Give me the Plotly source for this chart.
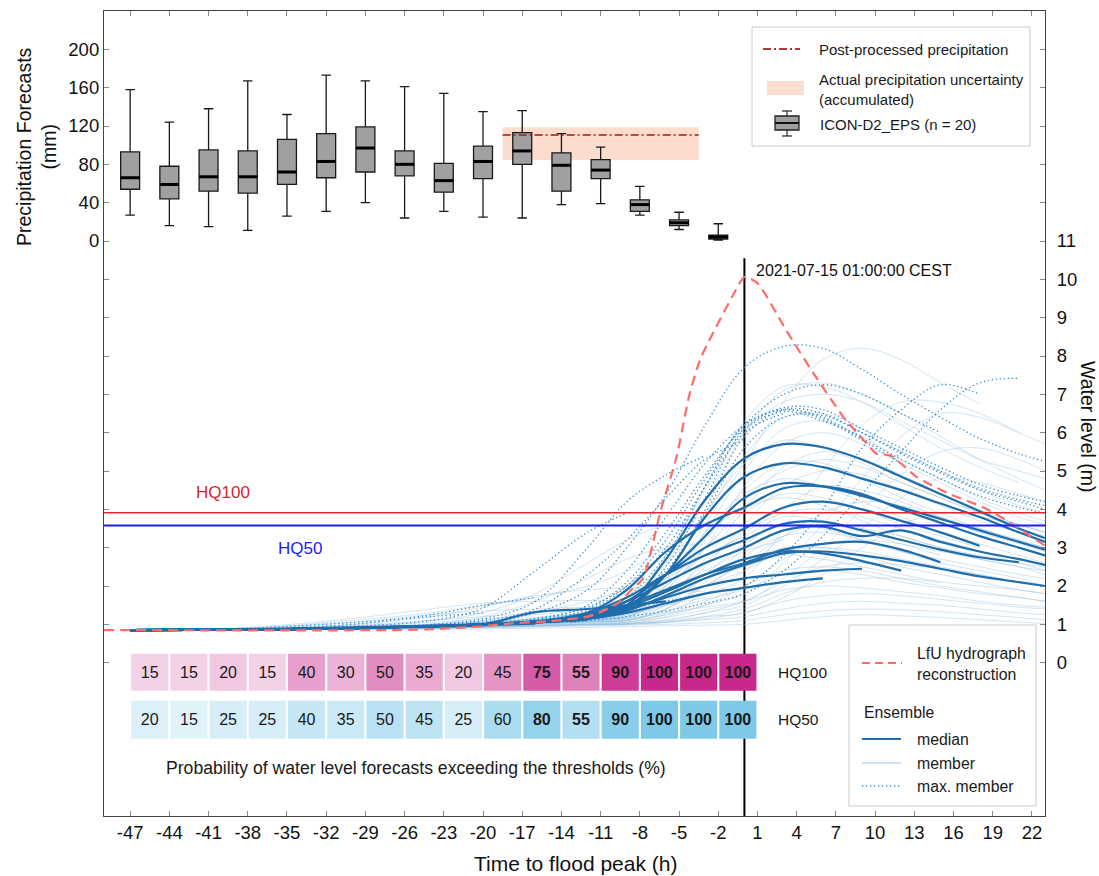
import plotly.graph_objects as go

# ---------------- data ----------------
issue_times = [-47, -44, -41, -38, -35, -32, -29, -26, -23, -20, -17, -14, -11, -8, -5, -2]
precip_upper = [158, 124, 138, 167, 132, 173, 167, 161, 154, 135, 136, 112, 98, 57, 30, 18]
precip_q3 = [93, 78, 95, 94, 106, 112, 119, 94, 81, 99, 113, 92, 85, 43, 22, 6]
precip_median = [66, 59, 67, 67, 72, 83, 97, 80, 63, 83, 94, 79, 74, 38, 19, 4]
precip_q1 = [54, 44, 52, 50, 59, 66, 72, 68, 51, 65, 80, 52, 65, 31, 16, 2]
precip_lower = [27, 16, 15, 11, 26, 31, 40, 24, 31, 25, 24, 38, 39, 27, 12, 1]

band_start, band_end = -18.5, -3.5
band_low, band_high = 84.5, 118.6
postprocessed_precip = 110.6

prob_hq100 = [15, 15, 20, 15, 40, 30, 50, 35, 20, 45, 75, 55, 90, 100, 100, 100]
prob_hq50 = [20, 15, 25, 25, 40, 35, 50, 45, 25, 60, 80, 55, 90, 100, 100, 100]
bold_from = -17

hq100_level = 3.91
hq50_level = 3.58
peak_time = 0
peak_label = "2021-07-15 01:00:00 CEST"

x_ticks = list(range(-47, 23, 3))
precip_ticks = [0, 40, 80, 120, 160, 200]
level_ticks = list(range(0, 12))

lfu_time = [-49, -25, -20, -18, -15, -12, -10.5, -9.5, -8.5, -7.75, -6.4, -5.2, -4.2, -3.4, -2.4,
            -0.8, 0, 1, 3.2, 5.3, 7.6, 9.4, 10.1, 11.2, 13.2, 15.7, 18.3, 20.1, 21.9, 23]
lfu_level = [0.85, 0.86, 0.95, 1.02, 1.08, 1.2, 1.4, 1.6, 1.95, 2.2, 3.97, 5.36, 7.0, 7.9, 8.6,
             9.63, 10.06, 9.9, 8.67, 7.54, 6.4, 5.7, 5.45, 5.4, 4.84, 4.4, 4.05, 3.7, 3.3, 3.05]

# forecast hours at which the ensemble levels are read
knots = [-47, -38, -30, -24, -20, -16, -12, -9, -6, -3, 0, 3, 6, 9, 12, 15, 18, 21, 23]

median_levels = [
    [0.85, 0.86, 0.9, 0.93, 0.97],
    [0.85, 0.86, 0.9, 0.95, 0.98, 1.02],
    [0.85, 0.86, 0.9, 0.96, 1.0, 1.05, 1.12],
    [0.85, 0.87, 0.92, 0.96, 1.0, 1.32, 1.4, 1.5, 1.6],
    [0.85, 0.86, 0.9, 0.95, 1.0, 1.05, 1.15, 1.3, 1.55, 1.8, 1.95, 2.1, 2.2],
    [0.85, 0.86, 0.9, 0.95, 1.0, 1.05, 1.18, 1.4, 1.7, 2.0, 2.2, 2.3, 2.4, 2.45],
    [0.85, 0.86, 0.9, 0.95, 1.0, 1.05, 1.2, 1.45, 1.85, 2.3, 2.7, 2.9, 2.85, 2.65, 2.4],
    [0.85, 0.86, 0.9, 0.95, 1.0, 1.05, 1.15, 1.35, 1.75, 2.2, 2.55, 2.85, 2.9, 2.8, 2.65, 2.45, 2.25, 2.1, 2.0],
    [0.85, 0.86, 0.9, 0.95, 1.0, 1.06, 1.2, 1.5, 1.9, 2.3, 2.6, 2.95, 3.1, 3.15, 2.95, 2.62],
    [0.85, 0.86, 0.9, 0.95, 1.0, 1.07, 1.25, 1.6, 2.1, 2.6, 3.0, 3.45, 3.55, 3.3, 3.45, 3.15, 2.9, 2.7, 2.55],
    [0.85, 0.86, 0.9, 0.95, 1.0, 1.07, 1.3, 1.7, 2.3, 2.8, 3.2, 3.62, 3.68, 3.45, 3.2, 2.95, 2.75, 2.62],
    [0.85, 0.86, 0.9, 0.95, 1.0, 1.07, 1.2, 1.6, 2.3, 3.0, 3.5, 4.05, 4.2, 4.0, 3.7, 3.4, 3.05],
    [0.85, 0.86, 0.9, 0.95, 1.0, 1.07, 1.3, 1.9, 2.9, 3.6, 4.05, 4.55, 4.6, 4.4, 4.0, 3.65, 3.3, 3.0, 2.8],
    [0.85, 0.86, 0.9, 0.95, 1.0, 1.07, 1.15, 1.45, 2.3, 3.3, 4.3, 4.68, 4.6, 4.35, 4.05, 3.75, 3.45, 3.15, 2.95],
    [0.85, 0.86, 0.9, 0.95, 1.0, 1.07, 1.15, 1.4, 2.3, 3.8, 4.85, 5.2, 5.1, 4.8, 4.5, 4.15, 3.8, 3.4, 3.15],
    [0.85, 0.86, 0.9, 0.95, 1.0, 1.07, 1.15, 1.5, 2.7, 4.25, 5.33, 5.7, 5.62, 5.3, 4.85, 4.4, 3.95, 3.5, 3.25],
]

max_member_levels = [
    [0.85, 0.9, 1.05, 1.2, 1.3],
    [0.85, 0.88, 1.0, 1.25, 1.5, 1.7],
    [0.85, 0.87, 0.95, 1.1, 1.43, 2.4, 3.4, 3.9],
    [0.85, 0.87, 0.93, 1.0, 1.15, 1.6, 3.0, 4.2, 4.9, 5.4],
    [0.85, 0.86, 0.9, 0.98, 1.1, 1.4, 2.3, 3.2, 4.3, 5.3, 5.8],
    [0.85, 0.86, 0.9, 0.96, 1.03, 1.15, 1.45, 2.0, 3.0, 4.6, 6.0, 6.5],
    [0.85, 0.86, 0.9, 0.95, 1.0, 1.1, 1.4, 2.1, 3.4, 4.9, 6.1, 6.55, 6.3, 5.9],
    [0.85, 0.86, 0.9, 0.95, 1.0, 1.12, 1.5, 2.4, 3.8, 5.2, 6.2, 6.6, 6.35, 5.8, 5.2],
    [0.85, 0.86, 0.9, 0.95, 1.0, 1.1, 1.35, 2.0, 3.2, 4.8, 6.2, 7.0, 7.25, 7.0, 6.5, 6.0],
    [0.85, 0.87, 0.92, 0.98, 1.05, 1.3, 1.9, 3.0, 4.4, 6.2, 7.7, 8.25, 8.2, 7.65, 7.0, 6.4, 5.85, 5.45, 5.25],
    [0.85, 0.86, 0.9, 0.95, 1.0, 1.05, 1.2, 1.4, 1.6, 1.8, 2.0, 2.8, 4.0, 5.6, 6.6, 7.25, 7.0],
    [0.85, 0.86, 0.9, 0.94, 0.98, 1.03, 1.1, 1.2, 1.35, 1.55, 1.8, 2.4, 3.3, 4.4, 5.5, 6.6, 7.3, 7.42],
    [0.85, 0.86, 0.9, 0.95, 1.0, 1.07, 1.2, 1.6, 2.4, 3.9, 5.6, 6.4, 6.45, 6.0, 5.45, 4.95, 4.5, 4.2, 4.0],
    [0.85, 0.86, 0.9, 0.95, 1.0, 1.07, 1.15, 1.5, 2.3, 4.0, 5.9, 6.6, 6.5, 6.0, 5.5, 5.0, 4.55, 4.25, 4.1],
    [0.85, 0.86, 0.9, 0.95, 1.0, 1.06, 1.1, 1.45, 2.5, 4.3, 6.1, 6.65, 6.6, 6.1, 5.6, 5.1, 4.65, 4.35, 4.2],
    [0.85, 0.86, 0.9, 0.95, 1.0, 1.08, 1.2, 1.7, 2.8, 4.6, 6.2, 6.6, 6.4, 5.85, 5.3, 4.8, 4.35, 4.05, 3.9],
]

member_levels = [
    [0.85, 0.9, 1.05, 1.25, 1.35, 1.4, 1.45],
    [0.85, 0.88, 0.98, 1.1, 1.2, 1.3, 1.4, 1.5],
    [0.85, 0.92, 1.15, 1.4, 1.55, 1.6, 1.62, 1.6],
    [0.85, 0.87, 0.93, 1.0, 1.1, 1.3, 1.6, 1.9, 2.1],
    [0.85, 0.86, 0.9, 0.95, 1.0, 1.05, 1.15, 1.3, 1.5, 1.7],
    [0.85, 0.9, 1.0, 1.2, 1.45, 1.75, 1.9, 1.95, 1.9, 1.85],
    [0.85, 0.88, 0.95, 1.05, 1.15, 1.25, 1.4, 1.7, 2.2, 2.8, 3.3],
    [0.85, 0.86, 0.9, 0.97, 1.05, 1.15, 1.3, 1.5, 1.9, 2.4, 2.9, 3.2],
    [0.85, 0.9, 1.1, 1.3, 1.5, 1.7, 2.0, 2.4, 3.0, 3.6, 4.0],
    [0.85, 0.87, 0.95, 1.1, 1.3, 1.8, 2.6, 3.2, 3.6, 3.8],
    [0.85, 0.86, 0.92, 1.0, 1.2, 1.6, 2.2, 2.7, 3.0, 3.1],
    [0.85, 0.86, 0.9, 0.95, 1.0, 1.05, 1.15, 1.4, 2.2, 3.6, 5.2, 6.8, 7.9, 8.2, 7.9, 7.3, 6.75],
    [0.85, 0.86, 0.9, 0.96, 1.02, 1.1, 1.2, 1.5, 2.6, 4.2, 6.0, 7.1, 7.3, 7.0, 6.5, 5.9, 5.3, 4.8, 4.5],
    [0.85, 0.86, 0.9, 0.94, 0.98, 1.03, 1.1, 1.25, 1.5, 1.8, 2.2, 3.5, 5.0, 6.2, 6.8, 6.8, 6.5, 6.0],
    [0.85, 0.86, 0.9, 0.95, 1.0, 1.05, 1.15, 1.3, 2.0, 3.4, 5.0, 6.1, 6.3, 5.9, 5.3, 4.8, 4.3, 3.9, 3.7],
    [0.85, 0.86, 0.9, 0.95, 1.0, 1.04, 1.12, 1.2, 1.8, 3.0, 4.6, 5.7, 6.0, 5.7, 5.2, 4.7, 4.2, 3.8, 3.6],
    [0.85, 0.87, 0.92, 0.98, 1.05, 1.15, 1.3, 1.5, 2.5, 3.9, 5.2, 5.8, 5.6, 5.2, 4.7, 4.3, 3.9, 3.5, 3.3],
    [0.85, 0.86, 0.9, 0.94, 0.99, 1.04, 1.1, 1.2, 1.7, 2.7, 4.0, 5.1, 5.5, 5.3, 4.9, 4.4, 4.0, 3.6, 3.4],
    [0.85, 0.86, 0.91, 0.96, 1.02, 1.08, 1.18, 1.3, 2.1, 3.3, 4.5, 5.2, 5.2, 4.8, 4.3, 3.9, 3.5, 3.2, 3.0],
    [0.85, 0.86, 0.9, 0.95, 1.0, 1.04, 1.1, 1.15, 1.6, 2.5, 3.6, 4.6, 5.0, 4.9, 4.5, 4.1, 3.7, 3.4, 3.2],
    [0.85, 0.87, 0.93, 1.0, 1.08, 1.18, 1.3, 1.4, 2.2, 3.4, 4.4, 4.8, 4.6, 4.2, 3.8, 3.4, 3.1, 2.8, 2.6],
    [0.85, 0.86, 0.9, 0.94, 0.98, 1.02, 1.07, 1.1, 1.4, 2.1, 3.0, 4.0, 4.6, 4.5, 4.2, 3.8, 3.4, 3.1, 2.9],
    [0.85, 0.86, 0.9, 0.96, 1.02, 1.1, 1.2, 1.2, 1.9, 3.0, 3.9, 4.4, 4.3, 4.0, 3.6, 3.3, 3.0],
    [0.85, 0.86, 0.89, 0.93, 0.97, 1.0, 1.03, 1.05, 1.3, 1.8, 2.4, 3.3, 3.9, 4.2, 4.1, 3.8, 3.5, 3.2, 3.0],
    [0.85, 0.86, 0.9, 0.95, 1.0, 1.06, 1.15, 1.2, 1.7, 2.6, 3.4, 3.9, 4.0, 3.8, 3.5, 3.2, 2.9, 2.6, 2.5],
    [0.85, 0.87, 0.92, 0.98, 1.05, 1.12, 1.22, 1.3, 2.0, 2.8, 3.3, 3.8, 3.7, 3.4, 3.1, 2.8],
    [0.85, 0.86, 0.9, 0.94, 0.98, 1.02, 1.07, 1.1, 1.4, 2.0, 2.6, 3.3, 3.6, 3.5, 3.3, 3.0, 2.8, 2.6, 2.4],
    [0.85, 0.86, 0.9, 0.95, 1.0, 1.06, 1.14, 1.2, 1.6, 2.2, 2.8, 3.3, 3.4, 3.2, 2.9, 2.7, 2.5, 2.3, 2.2],
    [0.85, 0.86, 0.88, 0.91, 0.94, 0.97, 1.0, 1.0, 1.2, 1.5, 2.0, 2.7, 3.1, 3.2, 3.1, 2.9, 2.7, 2.5, 2.4],
    [0.85, 0.86, 0.9, 0.94, 0.98, 1.03, 1.1, 1.15, 1.5, 2.0, 2.4, 2.9, 3.0, 2.9, 2.7, 2.5, 2.3, 2.1, 2.0],
    [0.85, 0.87, 0.92, 0.98, 1.05, 1.12, 1.2, 1.3, 1.7, 2.2, 2.5, 2.8, 2.7, 2.5, 2.3, 2.1],
    [0.85, 0.86, 0.88, 0.91, 0.94, 0.97, 1.0, 1.02, 1.1, 1.3, 1.6, 2.1, 2.5, 2.6, 2.55, 2.45, 2.3, 2.1, 2.0],
    [0.85, 0.86, 0.9, 0.94, 0.98, 1.02, 1.08, 1.12, 1.35, 1.65, 1.9, 2.3, 2.4, 2.3, 2.1, 1.95, 1.8, 1.7, 1.6],
    [0.85, 0.86, 0.88, 0.9, 0.93, 0.96, 0.99, 1.0, 1.05, 1.2, 1.4, 1.8, 2.1, 2.2, 2.2, 2.1, 2.0, 1.9, 1.8],
    [0.85, 0.86, 0.9, 0.95, 1.0, 1.05, 1.1, 1.15, 1.3, 1.45, 1.6, 1.9, 2.0, 1.95, 1.85, 1.75, 1.6, 1.5, 1.45],
    [0.85, 0.86, 0.88, 0.9, 0.92, 0.95, 0.98, 1.0, 1.05, 1.15, 1.3, 1.6, 1.75, 1.8, 1.75, 1.65, 1.55, 1.45, 1.4],
    [0.85, 0.86, 0.88, 0.91, 0.94, 0.97, 1.0, 1.02, 1.06, 1.12, 1.2, 1.4, 1.55, 1.6, 1.55, 1.5, 1.4, 1.3, 1.25],
    [0.85, 0.86, 0.87, 0.89, 0.91, 0.93, 0.96, 0.98, 1.0, 1.04, 1.1, 1.25, 1.35, 1.4, 1.38, 1.33, 1.25, 1.18, 1.12],
    [0.85, 0.85, 0.86, 0.87, 0.88, 0.9, 0.92, 0.94, 0.96, 0.98, 1.0, 1.1, 1.2, 1.25, 1.22, 1.18, 1.12, 1.06, 1.02],
    [0.85, 0.86, 0.9, 0.94, 0.98, 1.02, 1.06, 1.1, 1.25, 1.5, 1.8, 2.6, 3.6, 4.8, 5.9, 6.5, 6.4, 6.0, 5.7],
    [0.85, 0.86, 0.89, 0.92, 0.95, 0.99, 1.03, 1.06, 1.18, 1.38, 1.6, 2.2, 3.0, 4.0, 4.9, 5.5, 5.6, 5.3, 5.0],
    [0.85, 0.86, 0.88, 0.91, 0.94, 0.97, 1.0, 1.03, 1.12, 1.3, 1.5, 2.0, 2.7, 3.5, 4.3, 4.8, 4.7, 4.4, 4.2],
    [0.85, 0.86, 0.88, 0.9, 0.92, 0.95, 0.98, 1.0, 1.08, 1.2, 1.3, 1.7, 2.3, 3.0, 3.6, 3.9, 3.8, 3.6, 3.4],
    [0.85, 0.87, 0.92, 0.98, 1.05, 1.12, 1.25, 1.6, 2.8, 4.5, 6.0, 6.8, 7.0, 6.8, 6.3, 5.8, 5.3, 5.0, 4.8],
    [0.85, 0.86, 0.9, 0.95, 1.0, 1.07, 1.18, 1.4, 2.3, 3.8, 5.4, 6.4, 6.5, 6.1, 5.5, 5.0, 4.5, 4.1, 3.9],
    [0.85, 0.86, 0.9, 0.96, 1.03, 1.12, 1.25, 1.55, 2.7, 4.6, 6.3, 7.2, 7.2, 6.8, 6.2, 5.6, 5.1, 4.7],
    [0.85, 0.86, 0.9, 0.95, 1.0, 1.05, 1.12, 1.3, 2.0, 3.2, 4.3, 5.0, 5.3, 5.1, 4.7, 4.3, 3.9, 3.6, 3.4],
    [0.85, 0.86, 0.9, 0.95, 1.0, 1.06, 1.15, 1.25, 1.9, 3.0, 4.0, 4.3, 4.1, 3.7, 3.3, 3.0, 2.7, 2.5, 2.3],
    [0.85, 0.86, 0.89, 0.93, 0.97, 1.01, 1.06, 1.1, 1.5, 2.3, 3.1, 3.6, 3.5, 3.2, 2.9, 2.6, 2.4, 2.2, 2.0],
    [0.85, 0.86, 0.89, 0.93, 0.97, 1.01, 1.06, 1.1, 1.4, 2.0, 2.6, 3.0, 3.0, 2.8, 2.5, 2.3, 2.1, 1.9, 1.8],
    [0.85, 0.86, 0.88, 0.91, 0.94, 0.97, 1.0, 1.05, 1.25, 1.6, 2.0, 2.4, 2.5, 2.4, 2.2, 2.0, 1.85, 1.7, 1.6],
]

# ---------------- styling / layout constants ----------------
FONT = "Liberation Sans, Arial, Helvetica, sans-serif"
W, H = 1099, 876
ML, MR, MT, MB = 104, 54, 11, 60
LEVEL_RANGE = [-4, 17]
MM_PER_M = 40.0
PRECIP_ZERO_LEVEL = 11
BOX_WIDTH = 1.45
CELL_SPAN = 3
HQ100_ROW = (-0.731, 0.235)
HQ50_ROW = (-1.984, -0.992)

MEDIAN_COLOR = "#1f6dab"
MAX_COLOR = "#3b8fcc"
MEMBER_COLOR = "rgba(150,190,222,0.42)"
LFU_COLOR = "#ff6b6b"
DOT = "1.3px,2.7px"

plot_w = W - ML - MR
plot_h = H - MT - MB


def px(xp):
    return (xp - ML) / plot_w


def py(yp):
    return (H - MB - yp) / plot_h


def level_to_mm(v):
    return (v - PRECIP_ZERO_LEVEL) * MM_PER_M


def stack(rows):
    xs, ys = [], []
    for r in rows:
        xs += knots[:len(r)] + [None]
        ys += list(r) + [None]
    return xs, ys


fig = go.Figure()

# ensemble members
mx, my = stack(member_levels)
fig.add_trace(go.Scatter(x=mx, y=my, mode="lines", yaxis="y",
                         line=dict(color=MEMBER_COLOR, width=1, shape="spline", smoothing=1.0),
                         hoverinfo="skip", showlegend=False))
# max members
dx, dy = stack(max_member_levels)
fig.add_trace(go.Scatter(x=dx, y=dy, mode="lines", yaxis="y",
                         line=dict(color=MAX_COLOR, width=1.3, dash=DOT, shape="spline", smoothing=1.0),
                         hoverinfo="skip", showlegend=False))
# medians
ex, ey = stack(median_levels)
fig.add_trace(go.Scatter(x=ex, y=ey, mode="lines", yaxis="y",
                         line=dict(color=MEDIAN_COLOR, width=2.2, shape="spline", smoothing=1.0),
                         hoverinfo="skip", showlegend=False))
# LfU reconstruction
fig.add_trace(go.Scatter(x=lfu_time, y=lfu_level, mode="lines", yaxis="y",
                         line=dict(color=LFU_COLOR, width=2.2, dash="10px,6px", shape="spline", smoothing=0.6),
                         hoverinfo="skip", showlegend=False))
# thresholds
fig.add_trace(go.Scatter(x=[-49, 23], y=[hq100_level, hq100_level], mode="lines", yaxis="y",
                         line=dict(color="#e3262e", width=1.5), hoverinfo="skip", showlegend=False))
fig.add_trace(go.Scatter(x=[-49, 23], y=[hq50_level, hq50_level], mode="lines", yaxis="y",
                         line=dict(color="#1c1cff", width=2), hoverinfo="skip", showlegend=False))

# probability tables
cell_x = [t + CELL_SPAN / 2 for t in issue_times]
for probs, row, scale in [
    (prob_hq100, HQ100_ROW, [[0, "#fbeff6"], [1, "#c8288c"]]),
    (prob_hq50, HQ50_ROW, [[0, "#f2fafd"], [1, "#7ec8e8"]]),
]:
    labels = [f"<b>{p}</b>" if t >= bold_from else str(p) for t, p in zip(issue_times, probs)]
    fig.add_trace(go.Bar(
        x=cell_x, y=[row[1] - row[0]] * len(probs), base=[row[0]] * len(probs),
        width=CELL_SPAN - 0.16, yaxis="y",
        marker=dict(color=probs, colorscale=scale, cmin=0, cmax=100, line=dict(width=0)),
        text=labels, textposition="inside", insidetextanchor="middle", textangle=0,
        textfont=dict(family=FONT, size=16, color="#1a1a1a"), constraintext="none",
        hoverinfo="skip", showlegend=False))

# precipitation boxes
fig.add_trace(go.Box(
    x=issue_times, q1=precip_q1, median=precip_median, q3=precip_q3,
    lowerfence=precip_lower, upperfence=precip_upper, yaxis="y2",
    width=BOX_WIDTH, whiskerwidth=0.5, fillcolor="#a0a0a0",
    line=dict(color="#1a1a1a", width=1.3), boxpoints=False,
    hoverinfo="skip", showlegend=False))
medx, medy = [], []
for t, m in zip(issue_times, precip_median):
    medx += [t - BOX_WIDTH / 2, t + BOX_WIDTH / 2, None]
    medy += [m, m, None]
fig.add_trace(go.Scatter(x=medx, y=medy, mode="lines", yaxis="y2",
                         line=dict(color="#000000", width=3), hoverinfo="skip", showlegend=False))
# post-processed precipitation
fig.add_trace(go.Scatter(x=[band_start, band_end], y=[postprocessed_precip] * 2, mode="lines", yaxis="y2",
                         line=dict(color="#a31818", width=1.6, dash="8px,3px,2px,3px"),
                         hoverinfo="skip", showlegend=False))

shapes = [
    dict(type="rect", xref="x", yref="y2", x0=band_start, x1=band_end, y0=band_low, y1=band_high,
         fillcolor="#fcdccc", line=dict(width=0), layer="below"),
    dict(type="line", xref="x", yref="y", x0=peak_time, x1=peak_time, y0=LEVEL_RANGE[0], y1=10.55,
         line=dict(color="#000000", width=2), layer="below"),
]

# ---- legend (top) ----
shapes += [
    dict(type="rect", xref="paper", yref="paper", x0=px(752), x1=px(1030), y0=py(146), y1=py(27),
         fillcolor="white", line=dict(color="#cccccc", width=1), layer="above"),
    dict(type="line", xref="paper", yref="paper", x0=px(763), x1=px(800), y0=py(49), y1=py(49),
         line=dict(color="#b03a3a", width=2, dash="8px,3px,2px,3px"), layer="above"),
    dict(type="rect", xref="paper", yref="paper", x0=px(767), x1=px(804), y0=py(95), y1=py(81),
         fillcolor="#fcdccc", line=dict(width=0), layer="above"),
    dict(type="line", xref="paper", yref="paper", x0=px(787), x1=px(787), y0=py(136), y1=py(111),
         line=dict(color="#222222", width=1.2), layer="above"),
    dict(type="line", xref="paper", yref="paper", x0=px(782), x1=px(792), y0=py(111), y1=py(111),
         line=dict(color="#222222", width=1.2), layer="above"),
    dict(type="line", xref="paper", yref="paper", x0=px(782), x1=px(792), y0=py(136), y1=py(136),
         line=dict(color="#222222", width=1.2), layer="above"),
    dict(type="rect", xref="paper", yref="paper", x0=px(775), x1=px(799), y0=py(130), y1=py(116),
         fillcolor="#a0a0a0", line=dict(color="#222222", width=1.3), layer="above"),
    dict(type="line", xref="paper", yref="paper", x0=px(775), x1=px(799), y0=py(123), y1=py(123),
         line=dict(color="#111111", width=2), layer="above"),
]
# ---- legend (bottom) ----
shapes += [
    dict(type="rect", xref="paper", yref="paper", x0=px(849), x1=px(1036), y0=py(806), y1=py(625),
         fillcolor="white", line=dict(color="#cccccc", width=1), layer="above"),
    dict(type="line", xref="paper", yref="paper", x0=px(862), x1=px(902), y0=py(663), y1=py(663),
         line=dict(color=LFU_COLOR, width=2, dash="8px,5px"), layer="above"),
    dict(type="line", xref="paper", yref="paper", x0=px(862), x1=px(901), y0=py(739), y1=py(739),
         line=dict(color=MEDIAN_COLOR, width=2.2), layer="above"),
    dict(type="line", xref="paper", yref="paper", x0=px(862), x1=px(901), y0=py(763), y1=py(763),
         line=dict(color="#bdd7ec", width=1.5), layer="above"),
    dict(type="line", xref="paper", yref="paper", x0=px(862), x1=px(901), y0=py(786), y1=py(786),
         line=dict(color=MAX_COLOR, width=1.6, dash=DOT), layer="above"),
]


def ann(text, x, y, size=15, color="#1a1a1a", xanchor="left", xref="paper", yref="paper", angle=0,
        align="left"):
    return dict(text=text, x=x, y=y, xref=xref, yref=yref, xanchor=xanchor, yanchor="middle",
                showarrow=False, textangle=angle, align=align,
                font=dict(family=FONT, size=size, color=color))


annotations = [
    ann("Post-processed precipitation", px(817), py(49), 15),
    ann("Actual precipitation uncertainty<br>(accumulated)", px(817), py(89), 15),
    ann("ICON-D2_EPS (n = 20)", px(818), py(124), 15),
    ann("LfU hydrograph<br>reconstruction", px(915), py(664), 15.8),
    ann("Ensemble", px(862), py(712), 15.8),
    ann("median", px(915), py(739), 15.8),
    ann("member", px(915), py(763), 15.8),
    ann("max. member", px(915), py(786), 15.8),
    ann("HQ100", -39.9, 4.44, 17, "#d7262e", "center", "x", "y"),
    ann("HQ50", -34.0, 2.98, 17, "#1c1cff", "center", "x", "y"),
    ann(peak_label, 0.75, 10.24, 16, "#111111", "left", "x", "y"),
    ann("HQ100", 2.45, sum(HQ100_ROW) / 2, 15.5, "#1a1a1a", "left", "x", "y"),
    ann("HQ50", 2.45, sum(HQ50_ROW) / 2, 15.5, "#1a1a1a", "left", "x", "y"),
    ann("Probability of water level forecasts exceeding the thresholds (%)", -25.1, -2.74, 17.6,
        "#1a1a1a", "center", "x", "y", align="center"),
    ann("Precipitation Forecasts<br>(mm)", px(36), py(147), 19.5, "#111111", "center", angle=-90,
        align="center"),
    ann("Water level (m)", px(1088), py(426), 19.5, "#111111", "center", angle=90, align="center"),
    ann("Time to flood peak (h)", px(575), py(863), 21, "#111111", "center", align="center"),
]

left_vals = [level_to_mm(k) for k in range(0, 17)]
left_text = [str(int(v)) if v in precip_ticks else "" for v in left_vals]
right_vals = list(range(0, 17))
right_text = [str(v) if v in level_ticks else "" for v in right_vals]

fig.update_layout(
    width=W, height=H,
    margin=dict(l=ML, r=MR, t=MT, b=MB),
    paper_bgcolor="white", plot_bgcolor="white",
    font=dict(family=FONT, size=18, color="#111111"),
    barmode="overlay", showlegend=False,
    xaxis=dict(range=[-49, 23], tickvals=x_ticks, ticktext=[str(v) for v in x_ticks],
               ticks="inside", ticklen=5, tickcolor="#888888", showline=True, linecolor="#444444",
               linewidth=1.2, mirror="ticks", showgrid=False, zeroline=False,
               tickfont=dict(size=18.5, family=FONT, color="#111111"), ticklabelstandoff=0),
    yaxis=dict(range=LEVEL_RANGE, side="right", tickvals=right_vals, ticktext=right_text,
               ticks="inside", ticklen=5, tickcolor="#888888", showline=True, linecolor="#444444",
               linewidth=1.2, showgrid=False, zeroline=False,
               tickfont=dict(size=18.5, family=FONT, color="#111111"), ticklabelstandoff=7),
    yaxis2=dict(range=[level_to_mm(LEVEL_RANGE[0]), level_to_mm(LEVEL_RANGE[1])], overlaying="y",
                side="left", tickvals=left_vals, ticktext=left_text,
                ticks="inside", ticklen=5, tickcolor="#888888", showline=True, linecolor="#444444",
                linewidth=1.2, showgrid=False, zeroline=False,
                tickfont=dict(size=18.5, family=FONT, color="#111111")),
    shapes=shapes,
    annotations=annotations,
)

fig.write_html("out.html", config={"displayModeBar": False},
               post_script="document.body.style.margin='0px';document.body.style.overflow='hidden';")
